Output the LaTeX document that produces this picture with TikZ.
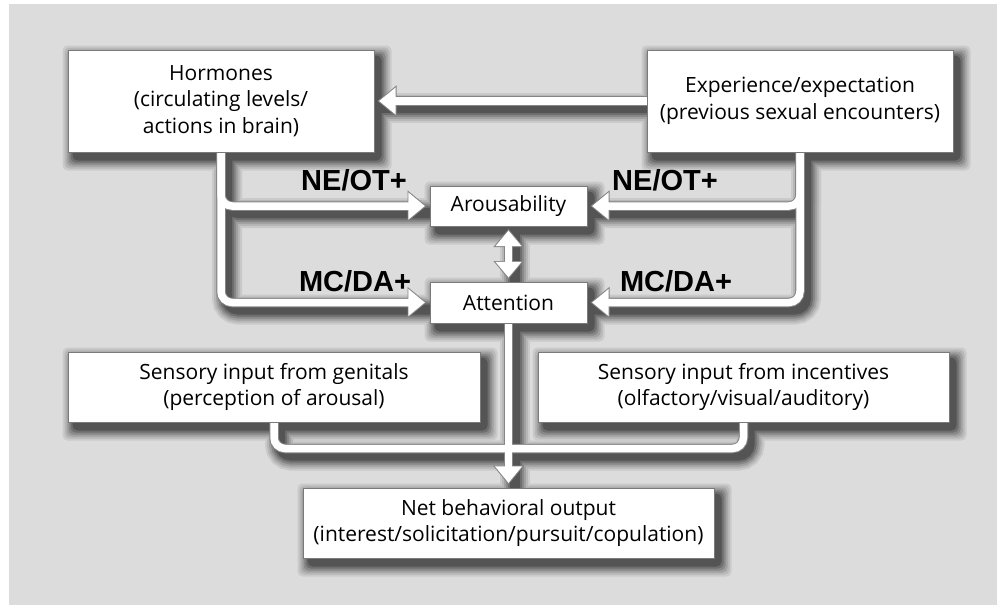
\documentclass[tikz,border=0pt]{standalone}
\usepackage{fontspec}
\setmainfont{Open Sans}
\newfontfamily\labelfont{Liberation Sans}
\usetikzlibrary{arrows.meta}
\definecolor{panel}{HTML}{DCDCDC}
\definecolor{boxedge}{HTML}{7A7A7A}
\definecolor{pipeedge}{HTML}{858585}
\pgfdeclarelayer{bgpanel}
\pgfdeclarelayer{shade}
\pgfdeclarelayer{pipes}
\pgfsetlayers{bgpanel,shade,pipes,main}
\newcommand\pipes{%
  \draw[pipe,endtip] (E.west) -- (H.east);
  \draw[pipe,endtip] (H.south) |- (Ar.west);
  \draw[pipe,endtip] (H.south) |- (At.west);
  \draw[pipe,endtip] (E.south) |- (Ar.east);
  \draw[pipe,endtip] (E.south) |- (At.east);
  \draw[pipe,bothtip] (Ar.south) -- (At.north);
  \draw[pipe] (G.south) -- ++(0,26) -| (I.south);
  \draw[pipe,endtip] (At.south) -- (N.north);
}
\begin{document}
\begin{tikzpicture}[x=1pt,y=-1pt,
  box/.style={draw=boxedge, line width=1pt, fill=white, inner sep=0pt, align=center,
    font=\fontsize{21}{26.5}\selectfont},
  lbl/.style={font=\labelfont\bfseries\fontsize{29}{32}\selectfont, inner sep=0pt},
  pipe/.style={rounded corners=11pt, line cap=butt},
  endtip/.style={}, bothtip/.style={}]
\useasboundingbox (0,0) rectangle (997,605);

\node[box, minimum width=306pt, minimum height=102pt] (H) at (221,101)
  {Hormones\\(circulating levels/\\actions in brain)};
\node[box, minimum width=306pt, minimum height=102pt] (E) at (800,101)
  {Experience/expectation\\(previous sexual encounters)};
\node[box, minimum width=157pt, minimum height=40pt] (Ar) at (508.5,206) {Arousability};
\node[box, minimum width=157pt, minimum height=41pt] (At) at (508.5,302.5) {Attention};
\node[box, minimum width=412pt, minimum height=70pt] (G) at (274,387)
  {Sensory input from genitals\\(perception of arousal)};
\node[box, minimum width=411pt, minimum height=70pt] (I) at (743.5,387)
  {Sensory input from incentives\\(olfactory/visual/auditory)};
\node[box, minimum width=411pt, minimum height=70pt] (N) at (508.5,523)
  {Net behavioral output\\(interest/solicitation/pursuit/copulation)};

\node[lbl] (l1) at (354,180) {NE/OT+};
\node[lbl] (l2) at (665,180) {NE/OT+};
\node[lbl] (l3) at (355,281) {MC/DA+};
\node[lbl] (l4) at (676,281) {MC/DA+};

\begin{pgfonlayer}{bgpanel}
  \fill[white] (0,0) rectangle (997,605);
  \fill[panel] (9,4) rectangle (997,605);
\end{pgfonlayer}

\begin{pgfonlayer}{shade}
  \foreach \p/\s/\w in {8/11/30, 17/9/26, 27/7/22, 38/5/18, 50/3/14, 62/1/10} {
    \begin{scope}[transform canvas={shift={(6pt,-7pt)}}, color=black!\p!panel, line width=\w pt]
      \pipes
      \foreach \b in {H,E,Ar,At,G,I,N}
        \fill[rounded corners=5pt] ([shift={(-\s,-\s)}]\b.north west) rectangle ([shift={(\s,\s)}]\b.south east);
    \end{scope}
  }
\end{pgfonlayer}

\begin{pgfonlayer}{pipes}
  \begin{scope}[color=pipeedge, line width=9.5pt,
      endtip/.style={-{Triangle[length=19pt,width=30pt]}, shorten >=3pt},
      bothtip/.style={{Triangle[length=18pt,width=29pt]}-{Triangle[length=18pt,width=29pt]}, shorten >=2.5pt, shorten <=2.5pt}]
    \pipes
  \end{scope}
  \begin{scope}[color=white, line width=7.5pt,
      endtip/.style={-{Triangle[length=16.5pt,width=26pt]}, shorten >=4.6pt},
      bothtip/.style={{Triangle[length=15.5pt,width=25pt]}-{Triangle[length=15.5pt,width=25pt]}, shorten >=4.1pt, shorten <=4.1pt}]
    \pipes
  \end{scope}
\end{pgfonlayer}
\end{tikzpicture}
\end{document}
